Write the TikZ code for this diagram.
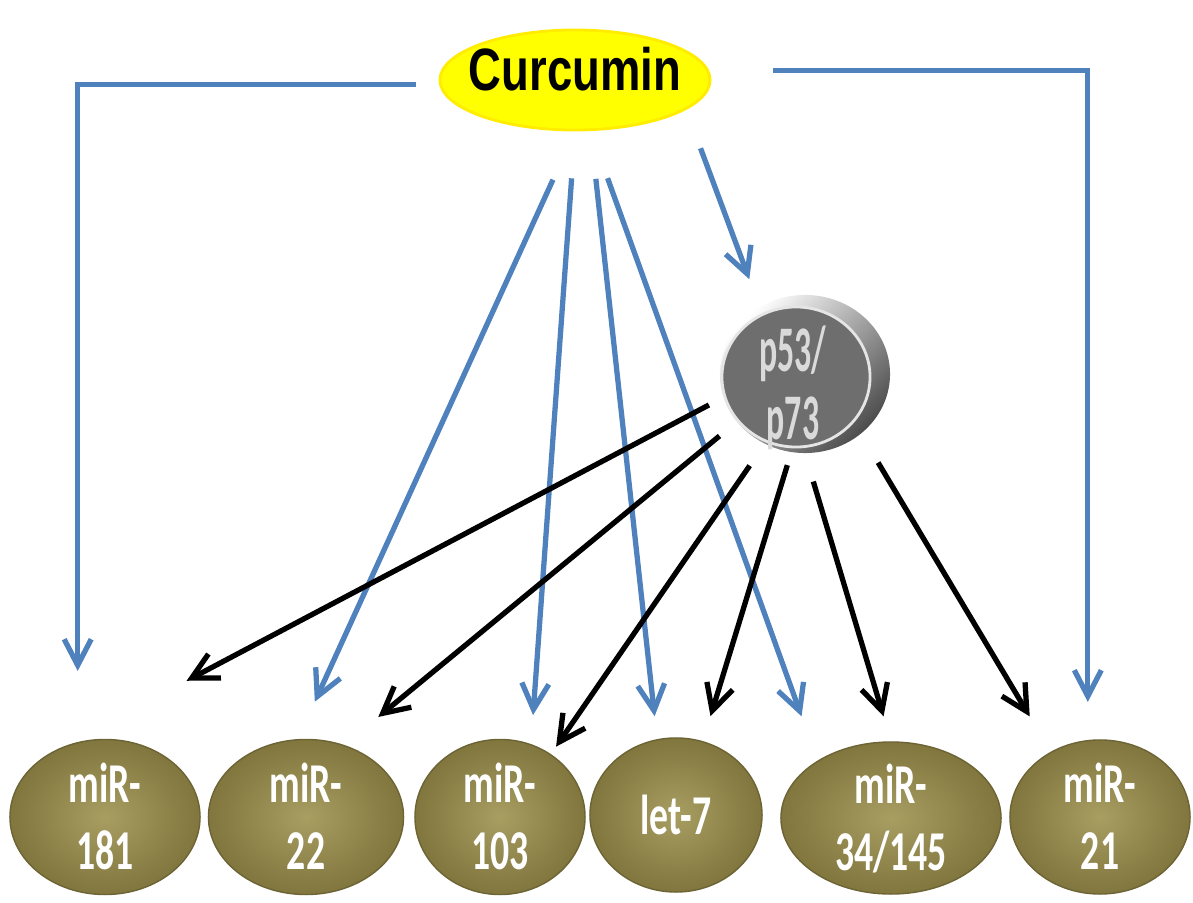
\documentclass[tikz,border=0pt]{standalone}
\usepackage{fontspec}
\setmainfont{Carlito}
\newfontfamily\curfont{Liberation Sans}
\usetikzlibrary{arrows.meta,shapes.geometric}

\definecolor{arrblue}{RGB}{79,129,189}
\definecolor{olivedk}{RGB}{128,118,62}
\definecolor{olivelt}{RGB}{168,158,98}
\definecolor{curyellow}{RGB}{255,255,0}
\definecolor{hubgray}{RGB}{110,110,110}
\definecolor{hubtext}{RGB}{218,218,218}

\newcommand{\mirtxt}[2]{\scalebox{0.67}[1]{\begin{tabular}{@{}c@{}}#1\\#2\end{tabular}}}

\begin{document}
\begin{tikzpicture}[x=0.01cm, y=-0.01cm,
  mirna/.style={ellipse, inner color=olivelt, outer color=olivedk, draw=olivedk!85!black, line width=0.4pt, inner sep=0pt},
  mirlbl/.style={text=white, font=\fontsize{16}{19}\selectfont\bfseries, inner sep=0pt, yshift=-0.6mm},
  blu/.style={arrblue, line width=1.5pt, -{Straight Barb[length=2.6mm,width=2.7mm]}},
  blk/.style={black, line width=1.5pt, -{Straight Barb[length=2.6mm,width=2.7mm]}}]
  \useasboundingbox (0,0) rectangle (1193,903);

  \node[ellipse, fill=curyellow, draw=curyellow!85!orange, line width=0.8pt, inner sep=0pt,
        minimum width=2.7cm, minimum height=1cm,
        label={[font=\curfont\bfseries\fontsize{17}{20}\selectfont, yshift=1.1mm]center:\scalebox{0.76}[1]{Curcumin}}] (cur) at (575,80) {};

  \node[ellipse, inner sep=0pt, minimum width=1.7cm, minimum height=1.58cm,
        top color=white, bottom color=black!70, shading angle=45,
        path picture={\fill[hubgray, draw=white!80!gray, line width=0.8pt]
          ([xshift=-0.9mm,yshift=-0.3mm]path picture bounding box.center) ellipse [x radius=0.74cm, y radius=0.7cm];},
        label={[text=hubtext, font=\fontsize{18.5}{19.3}\selectfont\bfseries, xshift=-1.2mm, yshift=-1.8mm]center:\scalebox{0.52}[1]{\begin{tabular}{@{}c@{}}p53/\\p73\end{tabular}}}] (p53) at (805,374) {};

  \node[mirna, minimum width=1.9cm, minimum height=1.55cm, label={[mirlbl]center:\mirtxt{miR-}{181}}] (m181) at (105,817) {};
  \node[mirna, minimum width=1.95cm, minimum height=1.55cm, label={[mirlbl]center:\mirtxt{miR-}{22}}] (m22) at (306,817) {};
  \node[mirna, minimum width=1.7cm, minimum height=1.55cm, label={[mirlbl]center:\mirtxt{miR-}{103}}] (m103) at (500,817) {};
  \node[mirna, minimum width=1.72cm, minimum height=1.54cm, label={[mirlbl, yshift=0.6mm]center:\scalebox{0.67}[1]{let-7}}] (let7) at (676,815) {};
  \node[mirna, minimum width=2.2cm, minimum height=1.52cm, label={[mirlbl]center:\mirtxt{miR-}{34/145}}] (m34) at (891,818) {};
  \node[mirna, minimum width=1.8cm, minimum height=1.54cm, label={[mirlbl]center:\mirtxt{miR-}{21}}] (m21) at (1100,817) {};

  \draw[blu, shorten <=2.3mm, shorten >=7.1mm] (cur.182) -| (m181.110);
  \draw[blu, shorten <=6.4mm, shorten >=3.8mm] (cur.4) -| (m21.99);
  \draw[blu, shorten <=5.3mm, shorten >=4.1mm] (cur.south) -- (m22.96);
  \draw[blu, shorten <=4.7mm, shorten >=2.9mm] (cur.south) -- (m103.67);
  \draw[blu, shorten <=4.8mm, shorten >=2.3mm] (cur.287) -- (let7.104);
  \draw[blu, shorten <=5mm, shorten >=4.7mm] (cur.287) -- (m34.142);
  \draw[blu, shorten <=4.1mm, shorten >=2.9mm] (cur.345) -- (p53.124);

  \draw[blk, shorten <=1.6mm, shorten >=14.9mm] (p53.196) -- (m181.127);
  \draw[blk, shorten <=2.2mm, shorten >=4.4mm] (p53.215) -- (m22.62);
  \draw[blk, shorten <=2.6mm, shorten >=0.9mm] (p53.240) -- (m103.51);
  \draw[blk, shorten <=1.3mm, shorten >=2.6mm] (p53.260) -- (let7.70);
  \draw[blk, shorten <=2.9mm, shorten >=2.6mm] (p53.south) -- (m34.north);
  \draw[blk, shorten <=3.3mm, shorten >=4.1mm] (p53.313) -- (m21.127);
\end{tikzpicture}
\end{document}
